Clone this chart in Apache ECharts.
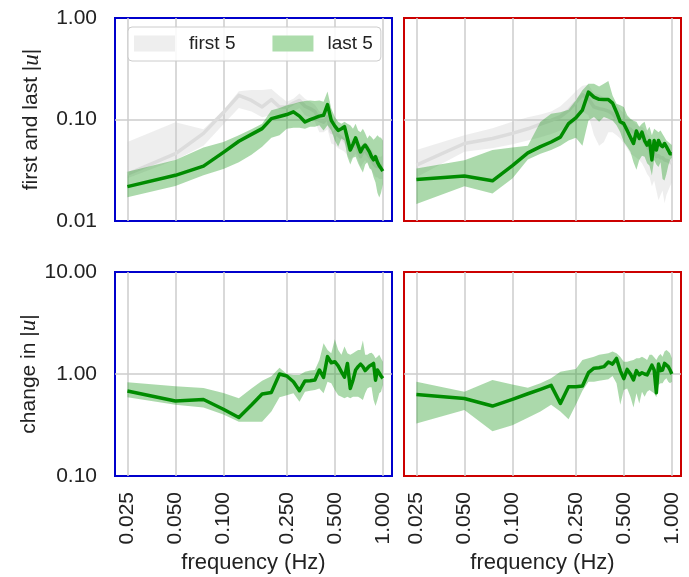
<!DOCTYPE html>
<html>
<head>
<meta charset="utf-8">
<script src="https://cdn.jsdelivr.net/npm/echarts@6/dist/echarts.min.js"></script>
<style>html,body{margin:0;padding:0;background:#fff}#c{width:689px;height:577px}</style>
</head>
<body>
<div id="c"></div>
<script>
// frequencies (Hz)
const freq = [0.025,0.05,0.075,0.1,0.125,0.15,0.175,0.2,0.225,0.25,0.275,0.3,0.325,0.35,0.375,0.4,0.425,0.45,0.475,0.5,0.525,0.55,0.575,0.6,0.625,0.65,0.675,0.7,0.725,0.75,0.775,0.8,0.825,0.85,0.875,0.9,0.925,0.95,0.975,1.0];
const xTicks = [0.025,0.05,0.1,0.25,0.5,1.0];

// top-left (blue) : first 5
const firstMeanA = [0.029,0.046,0.073,0.117,0.173,0.154,0.133,0.157,0.133,0.133,0.145,0.154,0.135,0.128,0.12,0.098,0.094,0.106,0.075,0.073,0.070,0.066,0.062,0.056,0.050,0.054,0.056,0.050,0.043,0.048,0.050,0.046,0.043,0.040,0.037,0.035,0.035,0.034,0.034,0.035];
const firstLoA = [0.0263,0.040,0.055,0.09,0.13,0.12,0.105,0.11,0.11,0.115,0.12,0.13,0.11,0.105,0.095,0.075,0.075,0.08,0.058,0.056,0.052,0.05,0.048,0.044,0.04,0.043,0.046,0.04,0.034,0.037,0.04,0.037,0.034,0.031,0.029,0.027,0.027,0.026,0.026,0.026];
const firstHiA = [0.060,0.094,0.080,0.123,0.19,0.195,0.195,0.20,0.17,0.15,0.16,0.18,0.16,0.15,0.14,0.12,0.115,0.125,0.095,0.09,0.085,0.08,0.076,0.068,0.062,0.065,0.066,0.062,0.055,0.058,0.06,0.057,0.054,0.05,0.047,0.045,0.044,0.043,0.043,0.045];
// top-left : last 5
const lastMeanA = [0.0218,0.0282,0.0347,0.0474,0.061,0.0713,0.0813,0.102,0.107,0.112,0.119,0.108,0.0945,0.0998,0.104,0.108,0.110,0.140,0.098,0.086,0.078,0.081,0.085,0.065,0.050,0.057,0.066,0.056,0.048,0.053,0.056,0.052,0.048,0.043,0.040,0.043,0.038,0.035,0.033,0.031];
const lastLoA = [0.0171,0.0221,0.0283,0.0325,0.038,0.045,0.054,0.066,0.07,0.081,0.083,0.083,0.081,0.085,0.085,0.088,0.078,0.088,0.078,0.062,0.054,0.065,0.062,0.043,0.036,0.042,0.043,0.037,0.033,0.030,0.036,0.038,0.033,0.032,0.027,0.024,0.019,0.017,0.019,0.023];
const lastHiA = [0.0305,0.040,0.0529,0.060,0.070,0.080,0.091,0.123,0.13,0.138,0.143,0.149,0.152,0.154,0.152,0.154,0.150,0.189,0.128,0.106,0.095,0.091,0.095,0.091,0.088,0.081,0.091,0.078,0.075,0.081,0.073,0.065,0.070,0.067,0.063,0.066,0.070,0.067,0.066,0.062];

// top-right (red) : first 5
const firstMeanB = [0.0355,0.058,0.065,0.073,0.081,0.090,0.098,0.107,0.123,0.148,0.175,0.160,0.133,0.128,0.125,0.121,0.114,0.102,0.095,0.088,0.083,0.080,0.075,0.077,0.070,0.067,0.060,0.054,0.050,0.042,0.048,0.043,0.044,0.042,0.042,0.040,0.040,0.039,0.038,0.037];
const firstLoB = [0.027,0.048,0.052,0.057,0.062,0.067,0.072,0.078,0.085,0.095,0.12,0.11,0.07,0.055,0.06,0.075,0.075,0.07,0.065,0.058,0.052,0.046,0.044,0.042,0.04,0.037,0.033,0.029,0.027,0.022,0.025,0.02,0.016,0.018,0.02,0.015,0.018,0.02,0.022,0.024];
const firstHiB = [0.05,0.07,0.082,0.095,0.105,0.112,0.12,0.135,0.16,0.19,0.215,0.22,0.18,0.175,0.165,0.16,0.15,0.14,0.125,0.115,0.105,0.1,0.095,0.09,0.085,0.085,0.08,0.072,0.068,0.062,0.065,0.062,0.06,0.058,0.056,0.054,0.052,0.05,0.05,0.048];
// top-right : last 5
const lastMeanB = [0.0256,0.0277,0.0249,0.0352,0.0469,0.054,0.060,0.067,0.091,0.104,0.124,0.186,0.166,0.158,0.157,0.157,0.145,0.118,0.095,0.091,0.078,0.067,0.058,0.077,0.065,0.075,0.062,0.056,0.062,0.040,0.062,0.050,0.062,0.056,0.054,0.058,0.054,0.050,0.046,0.046];
const lastLoB = [0.0147,0.022,0.0187,0.0262,0.0403,0.046,0.050,0.055,0.062,0.066,0.055,0.098,0.106,0.095,0.106,0.102,0.098,0.088,0.075,0.060,0.054,0.048,0.038,0.032,0.040,0.044,0.043,0.037,0.035,0.028,0.040,0.036,0.034,0.038,0.026,0.025,0.029,0.035,0.040,0.042];
const lastHiB = [0.0329,0.0397,0.050,0.053,0.055,0.095,0.114,0.118,0.125,0.154,0.194,0.225,0.225,0.212,0.225,0.239,0.172,0.143,0.138,0.133,0.110,0.102,0.097,0.095,0.085,0.091,0.095,0.078,0.085,0.070,0.081,0.078,0.075,0.078,0.072,0.067,0.062,0.060,0.058,0.056];

// bottom-left (blue) : change
const changeMeanA = [0.681,0.543,0.563,0.451,0.375,0.496,0.636,0.66,1.0,0.956,0.84,0.686,0.854,0.86,0.873,1.095,0.927,1.48,1.29,1.32,1.20,1.05,0.93,1.27,0.72,0.87,1.095,1.18,1.25,1.18,1.08,1.14,1.2,1.23,1.27,0.87,1.095,1.05,0.956,0.906];
const changeLoA = [0.59,0.50,0.47,0.40,0.34,0.34,0.34,0.43,0.59,0.62,0.646,0.535,0.67,0.686,0.696,0.72,0.646,0.84,0.81,0.696,0.62,0.6,0.577,0.6,0.577,0.6,0.6,0.6,0.577,0.555,0.646,0.72,0.74,0.74,0.555,0.485,0.555,0.646,0.67,0.78];
const changeHiA = [0.83,0.76,0.73,0.65,0.58,0.72,0.86,0.95,1.15,1.0,0.98,0.98,1.05,1.08,1.095,1.37,2.0,1.72,1.6,2.19,1.72,1.54,1.86,1.6,1.54,1.6,1.66,1.72,1.72,2.13,1.54,1.54,1.6,1.62,1.54,1.43,1.48,1.54,1.43,1.32];
// bottom-right (red) : change
const changeMeanB = [0.631,0.576,0.485,0.565,0.64,0.708,0.774,0.515,0.75,0.75,0.762,1.03,1.14,1.15,1.18,1.31,1.25,1.42,1.08,0.9,1.11,1.0,0.873,1.08,0.98,1.03,1.0,0.98,1.095,1.22,1.095,0.655,1.25,1.08,1.095,1.27,1.23,1.18,1.095,1.0];
const changeLoB = [0.327,0.443,0.275,0.315,0.372,0.43,0.5,0.43,0.36,0.5,0.686,0.84,0.84,0.86,0.873,0.886,0.956,0.81,0.5,0.696,0.72,0.6,0.47,0.646,0.515,0.67,0.6,0.67,0.696,0.67,0.646,0.59,0.78,0.81,0.81,0.873,0.906,0.84,0.81,0.84];
const changeHiB = [0.84,0.67,0.873,0.79,0.734,0.81,0.906,1.05,1.09,1.12,1.37,1.43,1.48,1.54,1.57,1.6,1.66,1.6,1.48,1.32,1.32,1.35,1.37,1.43,1.43,1.48,1.43,1.37,1.54,1.54,1.46,1.37,1.5,1.57,1.48,1.66,1.72,1.66,1.6,1.43];

const topYTicks = [0.01, 0.1, 1];
const botYTicks = [0.1, 1, 10];

const FONT = 'Liberation Sans';
const GRAY_BAND = 'rgba(200,200,200,0.3)';
const GRAY_LINE = '#dcdcdc';
const GREEN_BAND = 'rgba(44,160,44,0.4)';
const GREEN_LINE = 'rgb(0,140,0)';
const BLUE = '#0000cc';
const RED = '#cc0000';

const grids = [
  {left:115, top:18, width:277, height:203, borderColor:BLUE},
  {left:404, top:18, width:277, height:203, borderColor:RED},
  {left:115, top:272, width:277, height:204, borderColor:BLUE},
  {left:404, top:272, width:277, height:204, borderColor:RED}
].map(g => Object.assign({show:true, borderWidth:2, backgroundColor:'transparent'}, g));

function xAxis(i, bottom) {
  return {
    type:'log', gridIndex:i, min:0.0209, max:1.142, logBase:10,
    name: bottom ? 'frequency (Hz)' : '', nameLocation:'middle', nameGap:76,
    nameTextStyle:{fontFamily:FONT, fontSize:22, color:'#222'},
    axisLine:{show:false},
    axisTick:{show:false, customValues:xTicks},
    axisLabel:{show:bottom, customValues:xTicks, rotate:90, margin:16,
      fontFamily:FONT, fontSize:21, color:'#222', formatter:v => Number(v).toFixed(3)},
    splitLine:{show:true, lineStyle:{color:'#cccccc', width:1.5}}
  };
}
function yAxis(i, ticks, name, showLabel) {
  return {
    type:'log', gridIndex:i, min:ticks[0], max:ticks[2], logBase:10,
    name: name, nameLocation:'middle', nameGap:72, nameRotate:90,
    nameTextStyle:{fontFamily:FONT, fontSize:21, color:'#222',
      rich:{u:{fontFamily:'Liberation Serif', fontStyle:'italic', fontSize:23, color:'#222'}}},
    axisLine:{show:false},
    axisTick:{show:false, customValues:[ticks[1]]},
    axisLabel:{show:showLabel, customValues:ticks, margin:18, fontFamily:FONT, fontSize:21, color:'#222',
      formatter:v => Number(v).toFixed(2)},
    splitLine:{show:true, lineStyle:{color:'#cccccc', width:1.5}}
  };
}

function band(name, gi, lo, hi, color, z) {
  return {
    type:'custom', name:name, xAxisIndex:gi, yAxisIndex:gi, z:z, silent:true,
    itemStyle:{color:color},
    data: freq.map((f, i) => [f, lo[i], hi[i]]),
    encode:{x:0, y:[1,2]},
    renderItem:function(params, api) {
      if (params.dataIndex !== 0) return null;
      const pts = [];
      for (let i = 0; i < freq.length; i++) pts.push(api.coord([freq[i], hi[i]]));
      for (let i = freq.length - 1; i >= 0; i--) pts.push(api.coord([freq[i], lo[i]]));
      return {type:'polygon', shape:{points:pts}, style:{fill:color}};
    }
  };
}
function line(name, gi, vals, color, z) {
  return {
    type:'line', name:name, xAxisIndex:gi, yAxisIndex:gi, z:z, silent:true,
    showSymbol:false, symbol:'none',
    lineStyle:{color:color, width:3.5, join:'round'}, itemStyle:{color:color},
    data: freq.map((f, i) => [f, vals[i]])
  };
}

const series = [
  band('first 5', 0, firstLoA, firstHiA, GRAY_BAND, 1),
  line('first 5 mean', 0, firstMeanA, GRAY_LINE, 2),
  band('last 5', 0, lastLoA, lastHiA, GREEN_BAND, 3),
  line('last 5 mean', 0, lastMeanA, GREEN_LINE, 4),
  band('first 5', 1, firstLoB, firstHiB, GRAY_BAND, 1),
  line('first 5 mean', 1, firstMeanB, GRAY_LINE, 2),
  band('last 5', 1, lastLoB, lastHiB, GREEN_BAND, 3),
  line('last 5 mean', 1, lastMeanB, GREEN_LINE, 4),
  band('change', 2, changeLoA, changeHiA, GREEN_BAND, 3),
  line('change mean', 2, changeMeanA, GREEN_LINE, 4),
  band('change', 3, changeLoB, changeHiB, GREEN_BAND, 3),
  line('change mean', 3, changeMeanB, GREEN_LINE, 4)
];

const chart = echarts.init(document.getElementById('c'), null, {renderer:'canvas'});
chart.setOption({
  animation:false,
  backgroundColor:'#ffffff',
  grid: grids,
  xAxis: [xAxis(0,false), xAxis(1,false), xAxis(2,true), xAxis(3,true)],
  yAxis: [
    yAxis(0, topYTicks, 'first and last |{u|u}|', true),
    yAxis(1, topYTicks, '', false),
    yAxis(2, botYTicks, 'change in |{u|u}|', true),
    yAxis(3, botYTicks, '', false)
  ],
  legend:{
    left:128, top:27, orient:'horizontal', icon:'rect',
    itemWidth:41, itemHeight:16, itemGap:37,
    padding:[7,8,8,6],
    backgroundColor:'rgba(255,255,255,0.85)', borderColor:'#cccccc', borderWidth:1, borderRadius:4,
    textStyle:{fontFamily:FONT, fontSize:19, color:'#222', padding:[0,0,0,9]},
    selectedMode:false,
    data:[
      {name:'first 5', itemStyle:{color:'#eeeeee'}},
      {name:'last 5', itemStyle:{color:'#acdcab'}}
    ]
  },
  series: series
});
</script>
</body>
</html>
